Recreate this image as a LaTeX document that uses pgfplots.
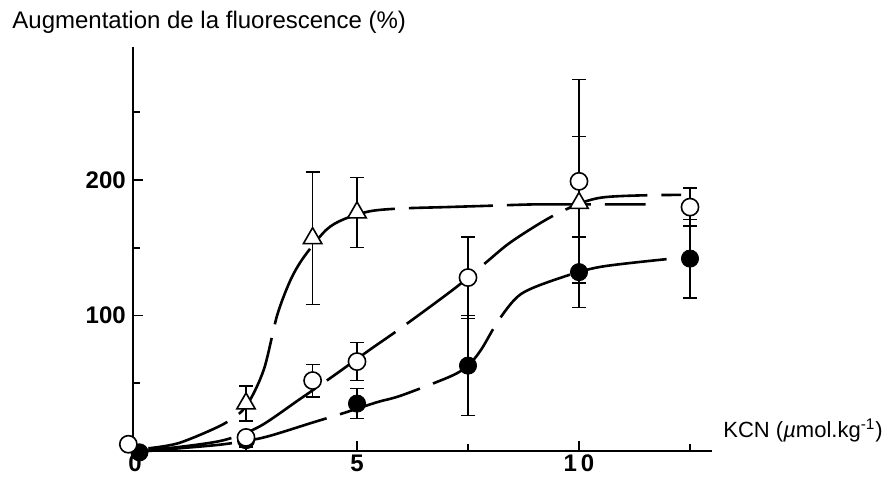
\documentclass[border=0pt]{standalone}
\usepackage{fontspec}
\setmainfont{Liberation Sans}
\usepackage{pgfplots}
\usepackage{pgfplotstable}
\pgfplotsset{compat=1.18}

\pgfplotstableread{
x y e
2.5 35 13
4 157 49
5 176 26
10 183 49
}\tri
\pgfplotstableread{
x y e
-0.15 5 0
2.5 10 4
4 52 12
5 66 14
7.5 128 30
10 199 75
12.5 180 14
}\circ
\pgfplotstableread{
x y e
0.1 -1 0
2.5 8 5
5 35 11
7.5 63 37
10 132 26
12.5 142 29
}\filled

\begin{document}
\begin{tikzpicture}
\path[use as bounding box] (0,0) rectangle (442.5pt,239pt);
\begin{axis}[
  at={(66.4pt,13.5pt)}, anchor=south west,
  scale only axis, width=289.7pt, height=201.9pt,
  xmin=-0.05, xmax=13, ymin=0, ymax=298,
  axis x line*=bottom, axis y line*=left,
  axis line style={line width=1pt, -},
  xtick={0,5,10}, xticklabels={0,5,1\,0}, minor xtick={2.5,7.5,12.5},
  ytick={100,200}, minor ytick={50,150,250},
  tick align=inside,
  major tick length=5pt, minor tick length=3.5pt,
  tick style={line width=0.9pt, black},
  ticklabel style={font=\bfseries\fontsize{12}{12}\selectfont},
  xticklabel style={yshift=1.5pt},
  /pgf/number format/assume math mode=true,
  clip=false,
]
% fitted curves
\addplot[smooth, black, line width=1.3pt, dash pattern=on 42pt off 7pt] coordinates {
(0.3,2) (1,6) (2,20) (2.5,33) (2.9,60) (3.2,100) (3.5,126) (3.8,143) (4.3,163) (4.7,171) (5.3,177) (6,179) (7,180) (8,181) (9,182) (10,182) (11.5,182)};
\addplot[smooth, black, line width=1.3pt, dash pattern=on 42pt off 7pt] coordinates {
(0.3,1) (1,3) (2,8) (2.8,18) (3.7,38) (4.45,55) (5.3,75) (6,91) (7.2,120) (7.9,139) (8.5,155) (9.5,175) (10.5,187) (12.3,189)};
\addplot[smooth, black, line width=1.3pt, dash pattern=on 42pt off 7pt] coordinates {
(0.3,0) (1,2) (2,5) (2.9,10) (4,21) (4.7,28) (5.45,36) (6,41) (7.1,55) (7.5,63) (7.8,75) (8.2,97) (8.7,116) (9.6,128) (10.5,136) (12.1,142)};
% error bars
\pgfplotsset{eb/.style={black, only marks, mark=none, forget plot,
  error bars/.cd, y dir=both, y explicit,
  error mark=-,
  error bar style={line width=0.7pt, black},
  error mark options={black, line width=0.7pt, mark size=3.5pt, rotate=90}}}
\addplot[eb] table[x=x, y=y, y error=e] {\tri};
\addplot[eb] table[x=x, y=y, y error=e] {\circ};
\addplot[eb] table[x=x, y=y, y error=e] {\filled};
% markers
\addplot[only marks, mark=*, mark size=4.3pt, mark options={fill=black, draw=black}] table[x=x, y=y] {\filled};
\addplot[only marks, mark=*, mark size=4.3pt, mark options={fill=white, draw=black, line width=0.8pt}] table[x=x, y=y] {\circ};
\addplot[only marks, mark=triangle*, mark size=5.3pt, mark options={fill=white, draw=black, line width=0.8pt}] table[x=x, y=y] {\tri};
\end{axis}
\node[anchor=base west, inner sep=0pt, font=\fontsize{12}{14}\selectfont] at (6pt,225pt) {Augmentation de la fluorescence (\%)};
\node[anchor=base west, inner sep=0pt, font=\fontsize{11}{13}\selectfont] at (361.5pt,20.5pt) {KCN ({\itshape µ}mol.kg\textsuperscript{-1})};
\end{tikzpicture}
\end{document}
